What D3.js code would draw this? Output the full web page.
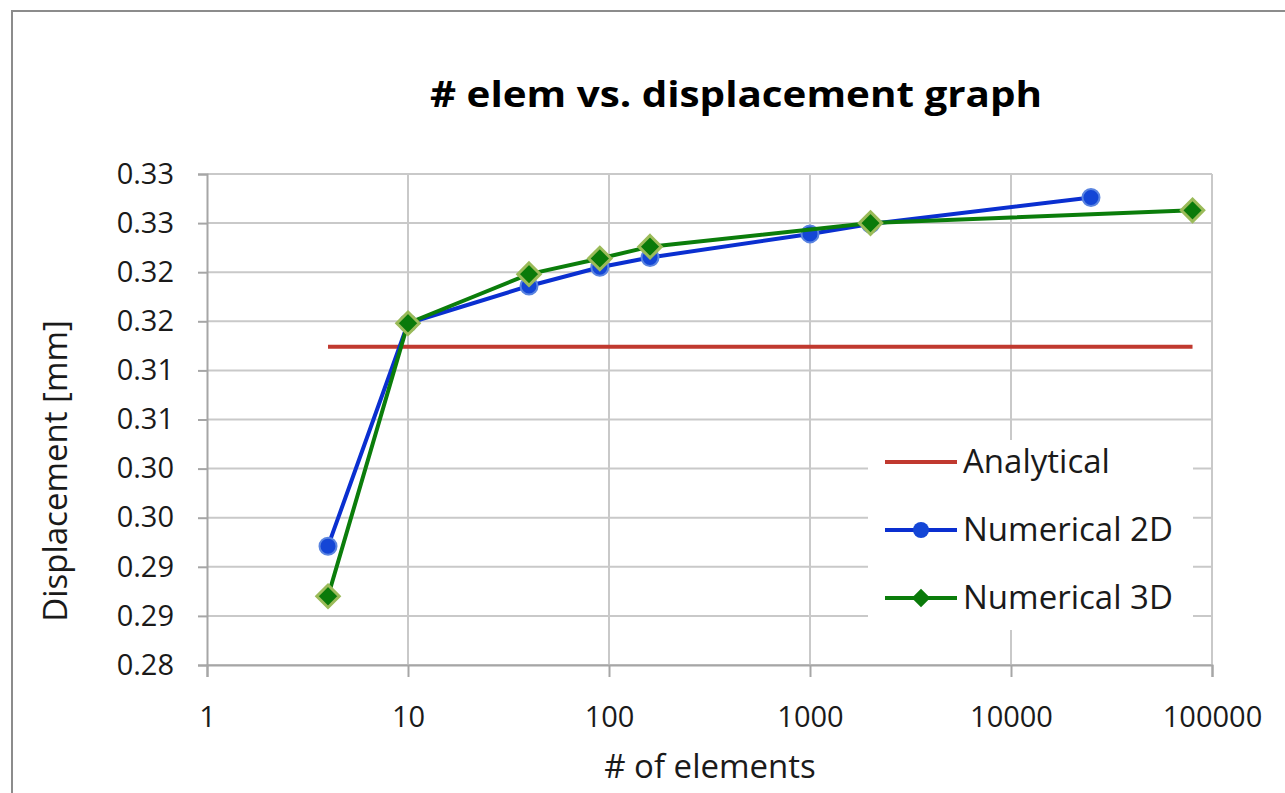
<!DOCTYPE html>
<html>
<head>
<meta charset="utf-8">
<script src="https://cdn.jsdelivr.net/npm/d3@7"></script>
<style>
  html, body { margin: 0; padding: 0; background: #fff; }
  svg { display: block; font-family: "Open Sans", "Noto Sans", sans-serif; }
</style>
</head>
<body>
<svg id="chart" width="1285" height="793"></svg>
<script>
// Mesh convergence: number of elements vs. tip displacement
const elems2D = [4, 10, 40, 90, 160, 1000, 2000, 25000];
const disp2D  = [0.2921, 0.3148, 0.3186, 0.3205, 0.3215, 0.3239, 0.3249, 0.3276];
const elems3D = [4, 10, 40, 90, 160, 2000, 80000];
const disp3D  = [0.2870, 0.3148, 0.3198, 0.3214, 0.3226, 0.3250, 0.3263];
const analyticalRange = [4, 80000];
const analyticalValue = 0.3124;

const xTicks = [1, 10, 100, 1000, 10000, 100000];
const yTicks = [0.280, 0.285, 0.290, 0.295, 0.300, 0.305, 0.310, 0.315, 0.320, 0.325, 0.330];
const seriesNames = ["Analytical", "Numerical 2D", "Numerical 3D"];

const svg = d3.select("#chart");

// outer chart frame
svg.append("rect")
  .attr("x", 12).attr("y", 11).attr("width", 1300).attr("height", 800)
  .attr("fill", "none").attr("stroke", "#8c8c8c").attr("stroke-width", 2);

const plot = { left: 207, right: 1212, top: 174, bottom: 665 };

const x = d3.scaleLog().domain([1, 100000]).range([plot.left, plot.right]);
const y = d3.scaleLinear().domain([0.28, 0.33]).range([plot.bottom, plot.top]);

// gridlines
const grid = svg.append("g");
grid.selectAll("line.h").data(yTicks).join("line")
  .attr("x1", plot.left).attr("x2", plot.right)
  .attr("y1", d => y(d)).attr("y2", d => y(d))
  .attr("stroke", "#c9c9c9").attr("stroke-width", 2);
grid.selectAll("line.v").data(xTicks.slice(1)).join("line")
  .attr("x1", d => x(d)).attr("x2", d => x(d))
  .attr("y1", plot.top).attr("y2", plot.bottom)
  .attr("stroke", "#c9c9c9").attr("stroke-width", 2);

// axes
const fmtY = d => d3.format(".2f")(d + 1e-9);
const yAxis = d3.axisLeft(y).tickValues(yTicks).tickFormat(fmtY).tickSize(9).tickPadding(24);
const xAxis = d3.axisBottom(x).tickValues(xTicks).tickFormat(d3.format("d")).tickSize(12).tickPadding(29);

const gy = svg.append("g").attr("transform", `translate(${plot.left},0)`).call(yAxis);
const gx = svg.append("g").attr("transform", `translate(0,${plot.bottom})`).call(xAxis);
[gx, gy].forEach(g => {
  g.select(".domain").attr("stroke", "#a6a6a6").attr("stroke-width", 2);
  g.selectAll(".tick line").attr("stroke", "#a6a6a6").attr("stroke-width", 2);
  g.selectAll("text").attr("fill", "#1a1a1a").attr("font-size", 29)
    .attr("font-family", "'Open Sans', sans-serif");
});

// analytical reference line
const line = d3.line().x(d => x(d[0])).y(d => y(d[1]));
svg.append("path")
  .datum(analyticalRange.map(v => [v, analyticalValue]))
  .attr("d", line).attr("fill", "none")
  .attr("stroke", "#c0392f").attr("stroke-width", 4);

// numerical 2D
const pts2D = elems2D.map((e, i) => [e, disp2D[i]]);
svg.append("path").datum(pts2D).attr("d", line).attr("fill", "none")
  .attr("stroke", "#0a2fd0").attr("stroke-width", 4).attr("stroke-linejoin", "round");
svg.append("g").selectAll("circle").data(pts2D).join("circle")
  .attr("cx", d => x(d[0])).attr("cy", d => y(d[1])).attr("r", 8.5)
  .attr("fill", "#1446d6").attr("stroke", "#5a84e0").attr("stroke-width", 2);

// numerical 3D
const pts3D = elems3D.map((e, i) => [e, disp3D[i]]);
svg.append("path").datum(pts3D).attr("d", line).attr("fill", "none")
  .attr("stroke", "#0b7d0b").attr("stroke-width", 4).attr("stroke-linejoin", "round");
const diamond = d3.symbol().type(d3.symbolDiamond2).size(320);
svg.append("g").selectAll("path").data(pts3D).join("path")
  .attr("transform", d => `translate(${x(d[0])},${y(d[1])})`)
  .attr("d", diamond)
  .attr("fill", "#0a7a0a").attr("stroke", "#9bbb59").attr("stroke-width", 3);

// legend
const lg = svg.append("g");
lg.append("rect").attr("x", 868).attr("y", 440).attr("width", 325).attr("height", 190).attr("fill", "#fff");
const rows = [462, 530, 598];
seriesNames.forEach((name, i) => {
  const ry = rows[i];
  const col = ["#c0392f", "#0a2fd0", "#0b7d0b"][i];
  lg.append("line").attr("x1", 885).attr("x2", 957).attr("y1", ry).attr("y2", ry)
    .attr("stroke", col).attr("stroke-width", 4);
  if (i === 1) {
    lg.append("circle").attr("cx", 921).attr("cy", ry).attr("r", 8).attr("fill", "#1446d6");
  } else if (i === 2) {
    lg.append("path").attr("transform", `translate(921,${ry})`)
      .attr("d", d3.symbol().type(d3.symbolDiamond2).size(220)).attr("fill", "#0a7a0a");
  }
  lg.append("text").attr("x", 963).attr("y", ry + 11)
    .attr("font-size", 33).attr("fill", "#1a1a1a").text(name);
});

// title and axis titles
svg.append("text").attr("x", 736).attr("y", 107).attr("text-anchor", "middle")
  .attr("font-size", 35).attr("font-weight", "bold").attr("fill", "#000")
  .attr("textLength", 612).attr("lengthAdjust", "spacingAndGlyphs")
  .text("# elem vs. displacement graph");
svg.append("text").attr("x", 710).attr("y", 778).attr("text-anchor", "middle")
  .attr("font-size", 33).attr("fill", "#1a1a1a").text("# of elements");
svg.append("text").attr("transform", "translate(67,471) rotate(-90)").attr("text-anchor", "middle")
  .attr("font-size", 33).attr("fill", "#1a1a1a").text("Displacement [mm]");
</script>
</body>
</html>
